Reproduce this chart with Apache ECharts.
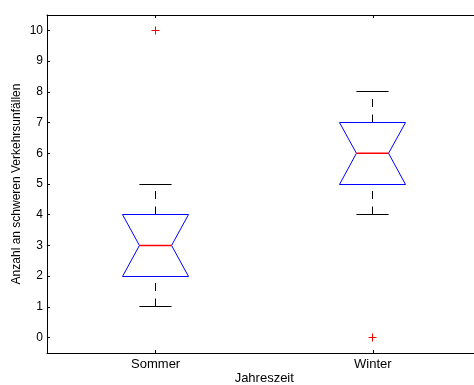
<!DOCTYPE html>
<html>
<head>
<meta charset="utf-8">
<script src="https://cdn.jsdelivr.net/npm/echarts@6/dist/echarts.min.js"></script>
<style>
  html, body { margin: 0; padding: 0; background: #fff; }
  #chart { width: 474px; height: 385px; }
</style>
</head>
<body>
<div id="chart"></div>
<script>
// Notched box plot: serious traffic accidents per season
const categories = ['Sommer', 'Winter'];
const whiskerLow = [1, 4];
const quartile1 = [2, 5];
const medians = [3, 6];
const quartile3 = [4, 7];
const whiskerHigh = [5, 8];
// outliers as [category index, value]
const outliers = [[0, 10], [1, 0]];
const yTickValues = [0, 1, 2, 3, 4, 5, 6, 7, 8, 9, 10];

const FONT = '"Liberation Sans", Arial, Helvetica, sans-serif';
const BLUE = '#0000ff';
const RED = '#ff0000';

const boxData = categories.map((c, i) => [
  i, whiskerLow[i], quartile1[i], medians[i], quartile3[i], whiskerHigh[i]
]);
const medianData = categories.map((c, i) => [i, medians[i]]);

// snap to pixel centres so 1px strokes stay crisp
const snap = v => Math.round(v - 0.5) + 0.5;

// widths relative to the category band
const BOX_HALF = 0.152;
const NOTCH_HALF = 0.074;
const CAP_HALF = 0.074;

function renderBox(params, api) {
  const i = api.value(0);
  const cx = snap(api.coord([i, 0])[0]);
  const band = api.size([1, 0])[0];
  const hw = band * BOX_HALF;
  const nw = band * NOTCH_HALF;
  const cw = band * CAP_HALF;
  const yWl = snap(api.coord([i, api.value(1)])[1]);
  const yQ1 = snap(api.coord([i, api.value(2)])[1]);
  const yMed = api.coord([i, api.value(3)])[1];
  const yQ3 = snap(api.coord([i, api.value(4)])[1]);
  const yWh = snap(api.coord([i, api.value(5)])[1]);
  const black = { stroke: '#000', lineWidth: 1 };
  const dashed = { stroke: '#000', lineWidth: 1, lineDash: [8, 7.5] };
  return {
    type: 'group',
    children: [
      // whiskers, drawn from the lower value upward
      { type: 'line', shape: { x1: cx, y1: yQ3, x2: cx, y2: yWh }, style: dashed },
      { type: 'line', shape: { x1: cx, y1: yWl, x2: cx, y2: yQ1 }, style: dashed },
      // whisker caps
      { type: 'line', shape: { x1: cx - cw, y1: yWh, x2: cx + cw, y2: yWh }, style: black },
      { type: 'line', shape: { x1: cx - cw, y1: yWl, x2: cx + cw, y2: yWl }, style: black },
      // notched box outline
      {
        type: 'polyline',
        shape: { points: [[cx - nw, yMed], [cx - hw, yQ3], [cx + hw, yQ3], [cx + nw, yMed]] },
        style: { fill: null, stroke: BLUE, lineWidth: 1 }
      },
      {
        type: 'polyline',
        shape: { points: [[cx - nw, yMed], [cx - hw, yQ1], [cx + hw, yQ1], [cx + nw, yMed]] },
        style: { fill: null, stroke: BLUE, lineWidth: 1 }
      }
    ]
  };
}

function renderMedian(params, api) {
  const i = api.value(0);
  const cx = snap(api.coord([i, 0])[0]);
  const nw = api.size([1, 0])[0] * NOTCH_HALF;
  const y = api.coord([i, api.value(1)])[1];
  return {
    type: 'line',
    shape: { x1: cx - nw, y1: y, x2: cx + nw, y2: y },
    style: { stroke: RED, lineWidth: 1.4 }
  };
}

function renderOutlier(params, api) {
  const p = api.coord([api.value(0), api.value(1)]);
  const x = snap(p[0]), y = snap(p[1]);
  const s = 4;
  const st = { stroke: RED, lineWidth: 1 };
  return {
    type: 'group',
    children: [
      { type: 'line', shape: { x1: x - s, y1: y, x2: x + s, y2: y }, style: st },
      { type: 'line', shape: { x1: x, y1: y - s, x2: x, y2: y + s }, style: st }
    ]
  };
}

const chart = echarts.init(document.getElementById('chart'), null, { renderer: 'canvas' });

const axisLine = { show: true, onZero: false, lineStyle: { color: '#000', width: 1 } };
const axisTick = { show: true, inside: true, length: 3, lineStyle: { color: '#000' } };

chart.setOption({
  animation: false,
  backgroundColor: '#fff',
  grid: { left: 47, top: 15, right: -7.5, bottom: 32, containLabel: false, outerBoundsMode: 'none' },
  xAxis: [
    {
      type: 'category',
      data: categories,
      position: 'bottom',
      boundaryGap: true,
      axisLine: axisLine,
      axisTick: Object.assign({ alignWithLabel: true }, axisTick),
      axisLabel: { color: '#000', fontSize: 13, fontFamily: FONT, margin: 5 },
      name: 'Jahreszeit',
      nameLocation: 'middle',
      nameGap: 19,
      nameMoveOverlap: false,
      nameTextStyle: { color: '#000', fontSize: 13, fontFamily: FONT },
      splitLine: { show: false }
    },
    {
      type: 'category',
      data: categories,
      position: 'top',
      boundaryGap: true,
      axisLine: axisLine,
      axisTick: Object.assign({ alignWithLabel: true }, axisTick),
      axisLabel: { show: false },
      splitLine: { show: false }
    }
  ],
  yAxis: {
    type: 'value',
    min: -0.5,
    max: 10.5,
    axisLine: axisLine,
    axisTick: Object.assign({ customValues: yTickValues }, axisTick),
    axisLabel: {
      customValues: yTickValues,
      color: '#000', fontSize: 12, fontFamily: FONT, margin: 4
    },
    splitLine: { show: false },
    name: 'Anzahl an schweren Verkehrsunfällen',
    nameLocation: 'middle',
    nameGap: 24,
    nameRotate: 90,
    nameMoveOverlap: false,
    nameTextStyle: { color: '#000', fontSize: 12, fontFamily: FONT }
  },
  series: [
    {
      type: 'custom',
      renderItem: renderBox,
      data: boxData,
      encode: { x: 0, y: [1, 2, 3, 4, 5] },
      clip: false,
      silent: true
    },
    {
      type: 'custom',
      renderItem: renderMedian,
      data: medianData,
      encode: { x: 0, y: 1 },
      z: 5,
      silent: true
    },
    {
      type: 'custom',
      renderItem: renderOutlier,
      data: outliers,
      encode: { x: 0, y: 1 },
      silent: true
    }
  ]
});
</script>
</body>
</html>
